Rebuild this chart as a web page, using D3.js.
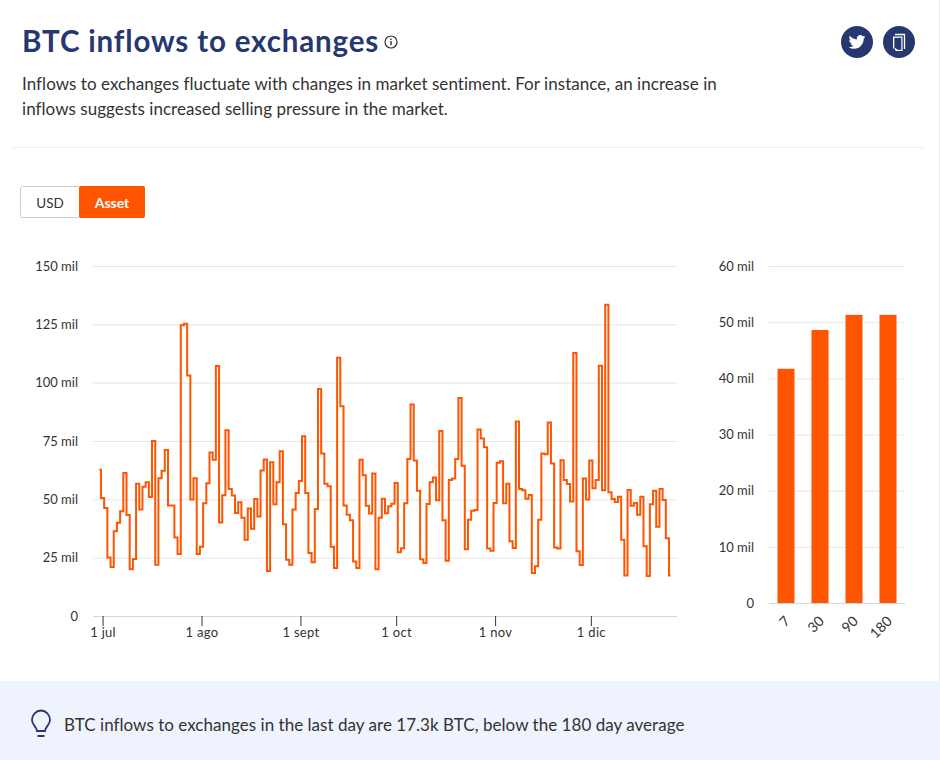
<!DOCTYPE html>
<html>
<head>
<meta charset="utf-8">
<script src="https://cdn.jsdelivr.net/npm/d3@7"></script>
<style>
  html, body { margin: 0; padding: 0; background: #fff; overflow: hidden; }
  svg { display: block; font-family: Lato, sans-serif; }
  .axis text { fill: #333; font-size: 13px; font-family: Lato, sans-serif; }
</style>
</head>
<body>
<script>
// daily inflows, starting 30 jun, in millions
var inflows = [
  62.7,50.6,46.3,25.1,21,36.3,40,44.9,61.3,43.3,
  20,24.4,56.7,45.6,55.4,57.3,51,75,22,59,
  62.3,71.1,47.4,47.4,33.6,26.6,124.6,125.3,103.1,49.9,
  59,26.6,29.7,48.3,56.9,70.1,67,107.1,40.1,51.7,
  79.6,54.4,51.6,44.1,48.7,42.1,32.7,46.1,37.4,50.1,
  42.6,62.4,67.1,19.3,65.9,47.9,57.3,70.6,39.3,24.1,
  22,45.6,52.7,57.9,77,52.7,27,23,45.9,97.3,
  69.6,56.7,55.6,29.7,20.6,110.7,89.9,47.4,43.4,41,
  23.4,20.6,67,60.3,47.3,43.9,61.1,20,42.1,50.3,
  44,47,48.1,57,27.3,29,48.3,67.3,90.6,66.6,
  53.7,24.3,22.7,48,57.3,59.4,49.6,79.3,41,23.7,
  58.3,58.9,67.3,93.4,64.4,28.6,41.3,45.1,45.4,79.9,
  76.1,72.3,28.9,28,48.4,65.7,66.3,48.3,56.7,32,
  29.1,83.4,54.4,53.9,50.3,51.9,18.4,21.3,41.3,69.6,
  69.3,82.9,65.4,29.4,28.9,66.7,58.3,56.6,49.1,112.7,
  27.7,21.9,58.9,49.9,66.6,54.7,58.3,107.3,53.9,133.4,
  53,50.1,48.9,51.1,32.7,17.4,54,47.3,48.4,43.4,
  51.1,29.9,17.1,47.9,53.7,38.3,54.4,49.7,33.3,17.4
];
var startDay = Date.UTC(2021, 5, 30);
var monthTicks = [Date.UTC(2021,6,1), Date.UTC(2021,7,1), Date.UTC(2021,8,1), Date.UTC(2021,9,1), Date.UTC(2021,10,1), Date.UTC(2021,11,1)];
var monthLabels = ["1 jul", "1 ago", "1 sept", "1 oct", "1 nov", "1 dic"];
var lineTicks = [0, 25, 50, 75, 100, 125, 150];

var windows = ["7", "30", "90", "180"];
var averages = [41.7, 48.6, 51.3, 51.3];
var barTicks = [0, 10, 20, 30, 40, 50, 60];

var orange = "#ff5400";
var navy = "#27376f";
var w = 940, h = 760;

var svg = d3.select("body").append("svg").attr("width", w).attr("height", h);

// header
svg.append("text").attr("x", 22).attr("y", 52)
  .attr("font-size", "29.5px").attr("font-weight", 700).attr("letter-spacing", "0.85px").attr("fill", navy)
  .text("BTC inflows to exchanges");

var info = svg.append("g").attr("transform", "translate(391,42)");
info.append("circle").attr("r", 6).attr("fill", "none").attr("stroke", "#333").attr("stroke-width", 1.2);
info.append("rect").attr("x", -0.7).attr("y", -1).attr("width", 1.4).attr("height", 4.2).attr("fill", "#333");
info.append("rect").attr("x", -0.7).attr("y", -3.4).attr("width", 1.4).attr("height", 1.4).attr("fill", "#333");

var tw = svg.append("g").attr("transform", "translate(857,42)");
tw.append("circle").attr("r", 16).attr("fill", navy);
tw.append("path")
  .attr("transform", "translate(-8.4,-8.4) scale(0.7)")
  .attr("fill", "#fff")
  .attr("d", "M23.953 4.57a10 10 0 01-2.825.775 4.958 4.958 0 002.163-2.723c-.951.555-2.005.959-3.127 1.184a4.92 4.92 0 00-8.384 4.482C7.69 8.095 4.067 6.13 1.64 3.162a4.822 4.822 0 00-.666 2.475c0 1.71.87 3.213 2.188 4.096a4.904 4.904 0 01-2.228-.616v.06a4.923 4.923 0 003.946 4.827 4.996 4.996 0 01-2.212.085 4.936 4.936 0 004.604 3.417 9.867 9.867 0 01-6.102 2.105c-.39 0-.779-.023-1.17-.067a13.995 13.995 0 007.557 2.209c9.053 0 13.998-7.496 13.998-13.985 0-.21 0-.42-.015-.63A9.935 9.935 0 0024 4.59z");

var cp = svg.append("g").attr("transform", "translate(899,42)");
cp.append("circle").attr("r", 16).attr("fill", navy);
cp.append("path").attr("d", "M-4,-7.5H5.5V7").attr("fill", "none").attr("stroke", "#fff").attr("stroke-width", 1.3);
cp.append("path").attr("d", "M-6,-5.5H3.5V9H-3L-6,6Z").attr("fill", "#fff");
cp.append("rect").attr("x", -4.7).attr("y", -4.2).attr("width", 7).attr("height", 12).attr("fill", navy);
cp.append("path").attr("d", "M-4,5.5V8H-1.5Z").attr("fill", "#fff");

svg.append("text").attr("x", 22).attr("y", 90).attr("font-size", "17px").attr("letter-spacing", "0.05px").attr("fill", "#333")
  .text("Inflows to exchanges fluctuate with changes in market sentiment. For instance, an increase in");
svg.append("text").attr("x", 22).attr("y", 115).attr("font-size", "17px").attr("letter-spacing", "0.05px").attr("fill", "#333")
  .text("inflows suggests increased selling pressure in the market.");

svg.append("line").attr("x1", 12).attr("x2", 923).attr("y1", 147.5).attr("y2", 147.5).attr("stroke", "#eeeeee");
svg.append("line").attr("x1", 939.5).attr("x2", 939.5).attr("y1", 0).attr("y2", 681).attr("stroke", "#eeeeee");

// usd / asset toggle
svg.append("rect").attr("x", 20.5).attr("y", 186.5).attr("width", 59).attr("height", 31).attr("rx", 2)
  .attr("fill", "#fff").attr("stroke", "#cccccc");
svg.append("text").attr("x", 50).attr("y", 208).attr("text-anchor", "middle").attr("font-size", "13.5px").attr("fill", "#333").text("USD");
svg.append("rect").attr("x", 79).attr("y", 186).attr("width", 66).attr("height", 32).attr("rx", 2).attr("fill", orange);
svg.append("text").attr("x", 112).attr("y", 208).attr("text-anchor", "middle").attr("font-size", "14px").attr("font-weight", 700).attr("fill", "#fff").text("Asset");

// line chart
var x = d3.scaleUtc().domain([Date.UTC(2021,5,28), Date.UTC(2021,11,28)]).range([93, 677]);
var y = d3.scaleLinear().domain([0, 150]).range([616, 266]);

var yAxis = svg.append("g").attr("class", "axis")
  .attr("transform", "translate(93,0)")
  .call(d3.axisLeft(y).tickValues(lineTicks).tickSize(0).tickPadding(15).tickFormat(function(d) { return d === 0 ? "0" : d + " mil"; }));
yAxis.select(".domain").remove();
yAxis.selectAll(".tick line").attr("x2", 584).attr("stroke", "#e6e6e6");

var xAxis = svg.append("g").attr("class", "axis")
  .attr("transform", "translate(0,616)")
  .call(d3.axisBottom(x).tickValues(monthTicks).tickSize(10).tickPadding(2).tickFormat(function(d, i) { return monthLabels[i]; }));
xAxis.select(".domain").attr("d", "M93,0.5H677").attr("stroke", "#ccd6eb");
xAxis.selectAll(".tick line").attr("stroke", "#333");
xAxis.selectAll(".tick text").attr("letter-spacing", "0.3px");

var line = d3.line()
  .x(function(d, i) { return x(startDay + i * 864e5); })
  .y(function(d) { return y(d); })
  .curve(d3.curveStep);

svg.append("path").datum(inflows)
  .attr("fill", "none")
  .attr("stroke", orange)
  .attr("stroke-width", 2)
  .attr("d", line);

// averages bar chart
var xb = d3.scaleBand().domain(windows).range([769, 905]).paddingInner(0.5).paddingOuter(0.25);
var yb = d3.scaleLinear().domain([0, 60]).range([603, 266]);

var ybAxis = svg.append("g").attr("class", "axis")
  .attr("transform", "translate(769,0)")
  .call(d3.axisLeft(yb).tickValues(barTicks).tickSize(0).tickPadding(15).tickFormat(function(d) { return d === 0 ? "0" : d + " mil"; }));
ybAxis.select(".domain").remove();
ybAxis.selectAll(".tick line").attr("x2", 136).attr("stroke", "#e6e6e6");

svg.selectAll(".avg").data(averages).enter().append("rect")
  .attr("class", "avg")
  .attr("x", function(d, i) { return xb(windows[i]); })
  .attr("y", function(d) { return yb(d); })
  .attr("width", xb.bandwidth())
  .attr("height", function(d) { return 603 - yb(d); })
  .attr("fill", orange);

var xbAxis = svg.append("g").attr("class", "axis")
  .attr("transform", "translate(0,603)")
  .call(d3.axisBottom(xb).tickSize(0));
xbAxis.select(".domain").attr("d", "M769,0.5H905").attr("stroke", "#ccd6eb");
xbAxis.selectAll(".tick text")
  .attr("text-anchor", "end")
  .attr("x", 0).attr("y", 0).attr("dy", 0)
  .style("font-size", "14px")
  .attr("transform", "translate(5,19) rotate(-45)");

// bottom note
svg.append("rect").attr("x", 0).attr("y", 681).attr("width", w).attr("height", 79).attr("fill", "#eff3fd");
var bulb = svg.append("g").attr("transform", "translate(41,724)").attr("fill", "none").attr("stroke", navy).attr("stroke-width", 1.8);
bulb.append("path").attr("d", "M-4,7C-4,3 -9,1 -9,-4A9,9.5 0 1 1 9,-4C9,1 4,3 4,7Z");
bulb.append("path").attr("d", "M-3.5,12H3.5").attr("stroke-width", 2);

svg.append("text").attr("x", 64).attr("y", 731).attr("font-size", "17px").attr("letter-spacing", "0.03px").attr("fill", "#333")
  .text("BTC inflows to exchanges in the last day are 17.3k BTC, below the 180 day average");
</script>
</body>
</html>
